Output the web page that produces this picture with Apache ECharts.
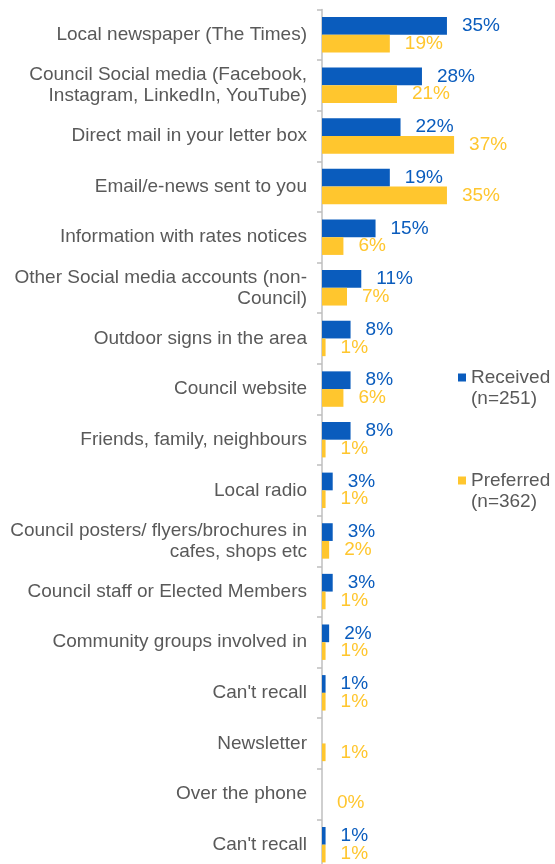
<!DOCTYPE html>
<html>
<head>
<meta charset="utf-8">
<script src="https://cdn.jsdelivr.net/npm/echarts@6/dist/echarts.min.js"></script>
<style>
  html, body { margin: 0; padding: 0; background: #ffffff; }
  #chart { width: 555px; height: 864px; }
</style>
</head>
<body>
<div id="chart"></div>
<script>
// Channels through which residents received / would prefer council information
const categories = [
  'Local newspaper (The Times)',
  'Council Social media (Facebook,\nInstagram, LinkedIn, YouTube)',
  'Direct mail in your letter box',
  'Email/e-news sent to you',
  'Information with rates notices',
  'Other Social media accounts (non-\nCouncil)',
  'Outdoor signs in the area',
  'Council website',
  'Friends, family, neighbours',
  'Local radio',
  'Council posters/ flyers/brochures in\ncafes, shops etc',
  'Council staff or Elected Members',
  'Community groups involved in',
  "Can't recall",
  'Newsletter',
  'Over the phone',
  "Can't recall"
];

const received = [35, 28, 22, 19, 15, 11, 8, 8, 8, 3, 3, 3, 2, 1, null, null, 1];
const preferred = [19, 21, 37, 35, 6, 7, 1, 6, 1, 1, 2, 1, 1, 1, 1, 0, 1];

const seriesNames = ['Received', 'Preferred'];
const sampleSizes = { Received: 'n=251', Preferred: 'n=362' };

const BLUE = '#0a5cbd';
const GOLD = '#ffc62e';
const GREY = '#595959';
const FONT = 'Liberation Sans, Arial, sans-serif';

const chart = echarts.init(document.getElementById('chart'), null, { renderer: 'canvas' });

function valueLabel(color) {
  return {
    show: true,
    position: 'right',
    distance: 15,
    color: color,
    fontFamily: FONT,
    fontSize: 19,
    formatter: p => (p.value === null || p.value === undefined) ? '' : p.value + '%'
  };
}

chart.setOption({
  animation: false,
  backgroundColor: '#ffffff',
  textStyle: { fontFamily: FONT },
  grid: {
    left: 322,
    right: 54.5,
    top: 9.4,
    bottom: -6,
    containLabel: false,
    outerBoundsMode: 'none'
  },
  legend: {
    data: seriesNames,
    orient: 'vertical',
    left: 458,
    top: 346,
    padding: 0,
    itemWidth: 8,
    itemHeight: 8,
    itemGap: 40,
    icon: 'rect',
    // leading blank line keeps the marker level with the series name
    formatter: name => '\n' + name + '\n(' + sampleSizes[name] + ')',
    textStyle: {
      color: GREY,
      fontFamily: FONT,
      fontSize: 19,
      lineHeight: 21
    }
  },
  xAxis: {
    type: 'value',
    min: 0,
    max: 50,
    show: false
  },
  yAxis: {
    type: 'category',
    inverse: true,
    data: categories,
    axisLine: { show: true, lineStyle: { color: '#bfbfbf', width: 1.5 } },
    axisTick: { show: true, length: 5, lineStyle: { color: '#bfbfbf', width: 1.5 } },
    axisLabel: {
      color: GREY,
      fontFamily: FONT,
      fontSize: 19,
      lineHeight: 21,
      margin: 15,
      interval: 0,
      align: 'right'
    },
    splitLine: { show: false }
  },
  series: [
    {
      name: seriesNames[0],
      type: 'bar',
      data: received,
      barCategoryGap: '30%',
      barGap: '0%',
      itemStyle: { color: BLUE },
      label: valueLabel(BLUE)
    },
    {
      name: seriesNames[1],
      type: 'bar',
      data: preferred,
      barCategoryGap: '30%',
      barGap: '0%',
      itemStyle: { color: GOLD },
      label: valueLabel(GOLD)
    }
  ]
});
</script>
</body>
</html>
